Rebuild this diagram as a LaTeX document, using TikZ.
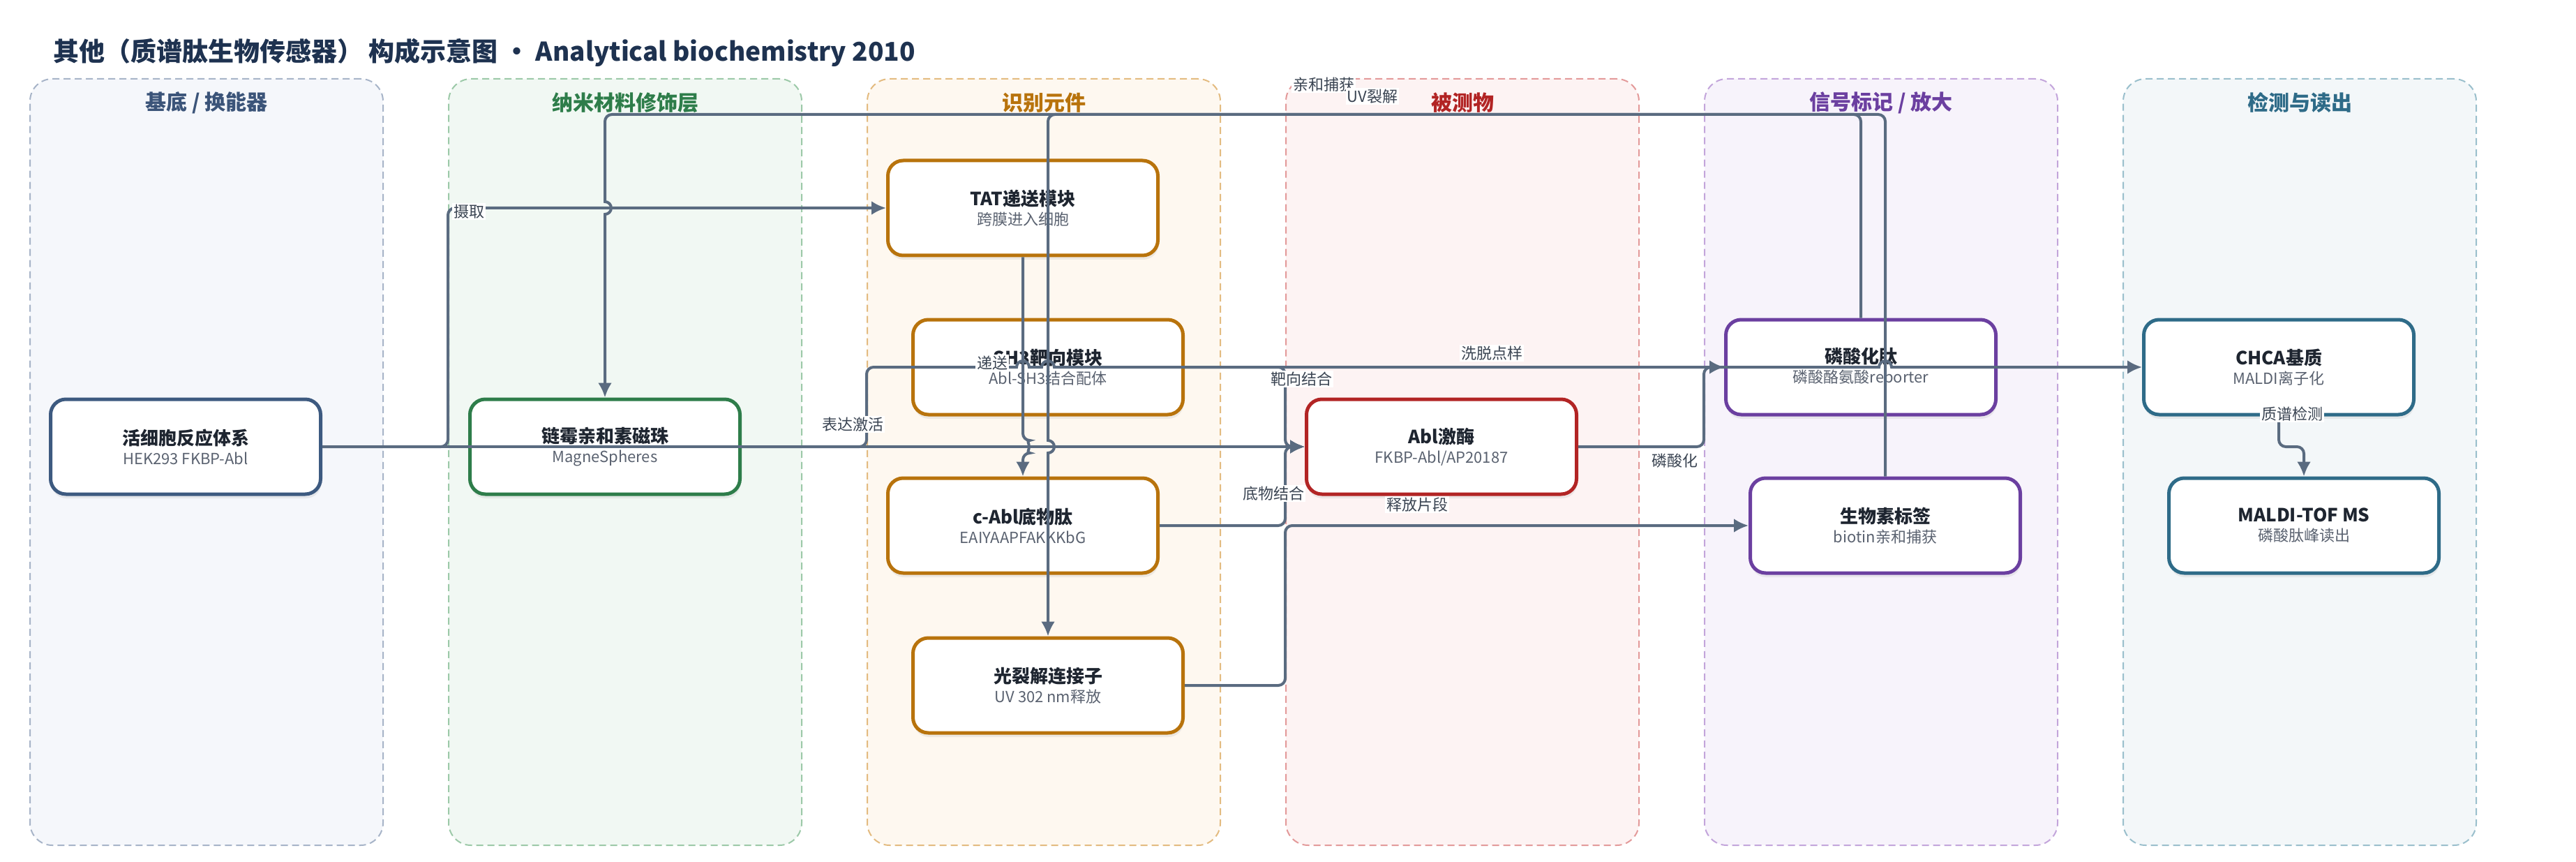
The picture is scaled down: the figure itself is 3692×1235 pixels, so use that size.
\documentclass[tikz,border=0pt]{standalone}
\usepackage{fontspec}
\setmainfont{Noto Sans CJK SC}
\usepackage{tikz}
\usetikzlibrary{shapes, arrows.meta, positioning, shadows}
\definecolor{edgec}{HTML}{5A6B80}
\definecolor{labelc}{HTML}{3A4452}
\definecolor{titlec}{HTML}{1E3250}
\definecolor{nodetc}{HTML}{1E2530}
\definecolor{subc}{HTML}{5A6270}
\definecolor{laneAfill}{HTML}{F5F7FB}\definecolor{laneAline}{HTML}{A7B4C8}\definecolor{laneAtext}{HTML}{3B5479}\definecolor{laneAbox}{HTML}{3D5A80}
\definecolor{laneBfill}{HTML}{F1F8F3}\definecolor{laneBline}{HTML}{9CC9A8}\definecolor{laneBtext}{HTML}{2E7D4A}\definecolor{laneBbox}{HTML}{2E7D4A}
\definecolor{laneCfill}{HTML}{FEF8F0}\definecolor{laneCline}{HTML}{E3BB80}\definecolor{laneCtext}{HTML}{B8730C}\definecolor{laneCbox}{HTML}{B8730C}
\definecolor{laneDfill}{HTML}{FDF3F3}\definecolor{laneDline}{HTML}{E39A9A}\definecolor{laneDtext}{HTML}{B22424}\definecolor{laneDbox}{HTML}{B22424}
\definecolor{laneEfill}{HTML}{F7F3FB}\definecolor{laneEline}{HTML}{C3A5DB}\definecolor{laneEtext}{HTML}{6B3FA0}\definecolor{laneEbox}{HTML}{6B3FA0}
\definecolor{laneFfill}{HTML}{F3F7F9}\definecolor{laneFline}{HTML}{9ABFCC}\definecolor{laneFtext}{HTML}{2E6B88}\definecolor{laneFbox}{HTML}{2E6B88}
\tikzstyle{lane}=[draw,rectangle,rounded corners=16pt,line width=1pt,dash pattern=on 5pt off 3pt,minimum width=253pt,minimum height=549pt]
\tikzstyle{lanetitle}=[font=\fontsize{15pt}{18pt}\selectfont\bfseries]
\tikzstyle{block}=[draw,fill=white,rectangle,rounded corners=11pt,line width=2.5pt,minimum width=193.5pt,minimum height=68pt,align=center,drop shadow={opacity=0.13,shadow xshift=0.5pt,shadow yshift=-3pt}]
\tikzstyle{edge}=[draw=edgec,line width=2pt,->,rounded corners=5pt]
\tikzstyle{lbl}=[fill=white,inner sep=1pt,text=labelc,font=\fontsize{11pt}{13pt}\selectfont]
\newcommand{\blocktext}[2]{{\fontsize{13pt}{16pt}\selectfont\bfseries\color{nodetc}#1}\\[2pt]{\fontsize{11pt}{13pt}\selectfont\color{subc}#2}}

\begin{document}
\begin{tikzpicture}[x=0.5pt,y=-0.5pt,>={Latex[length=10.5pt,width=10pt]}]
    \useasboundingbox (0,0) rectangle (3692,1235);
    \node[anchor=west,inner sep=0pt,text=titlec,font=\fontsize{18.5pt}{22pt}\selectfont\bfseries] (title) at (76,75) {其他（质谱肽生物传感器） 构成示意图 • Analytical biochemistry 2010};
    % lanes
    \node[lane,draw=laneAline,fill=laneAfill] (lane1) at (296,662) {};
    \node[lane,draw=laneBline,fill=laneBfill] (lane2) at (896,662) {};
    \node[lane,draw=laneCline,fill=laneCfill] (lane3) at (1496,662) {};
    \node[lane,draw=laneDline,fill=laneDfill] (lane4) at (2096,662) {};
    \node[lane,draw=laneEline,fill=laneEfill] (lane5) at (2696,662) {};
    \node[lane,draw=laneFline,fill=laneFfill] (lane6) at (3296,662) {};
    \node[lanetitle,text=laneAtext] (lt1) at (296,147) {基底 / 换能器};
    \node[lanetitle,text=laneBtext] (lt2) at (896,147) {纳米材料修饰层};
    \node[lanetitle,text=laneCtext] (lt3) at (1496,147) {识别元件};
    \node[lanetitle,text=laneDtext] (lt4) at (2096,147) {被测物};
    \node[lanetitle,text=laneEtext] (lt5) at (2696,147) {信号标记 / 放大};
    \node[lanetitle,text=laneFtext] (lt6) at (3296,147) {检测与读出};
    % blocks
    \node[block,draw=laneAbox] (cell) at (266,640) {\blocktext{活细胞反应体系}{HEK293 FKBP-Abl}};
    \node[block,draw=laneBbox] (beads) at (867,640) {\blocktext{链霉亲和素磁珠}{MagneSpheres}};
    \node[block,draw=laneCbox] (tat) at (1466,298) {\blocktext{TAT递送模块}{跨膜进入细胞}};
    \node[block,draw=laneCbox] (sh3) at (1502,526) {\blocktext{SH3靶向模块}{Abl-SH3结合配体}};
    \node[block,draw=laneCbox] (sub) at (1466,753) {\blocktext{c-Abl底物肽}{EAIYAAPFAKKKbG}};
    \node[block,draw=laneCbox] (uv) at (1502,982) {\blocktext{光裂解连接子}{UV 302 nm释放}};
    \node[block,draw=laneDbox] (abl) at (2066,640) {\blocktext{Abl激酶}{FKBP-Abl/AP20187}};
    \node[block,draw=laneEbox] (phos) at (2667,526) {\blocktext{磷酸化肽}{磷酸酪氨酸reporter}};
    \node[block,draw=laneEbox] (bio) at (2702,753) {\blocktext{生物素标签}{biotin亲和捕获}};
    \node[block,draw=laneFbox] (chca) at (3266,526) {\blocktext{CHCA基质}{MALDI离子化}};
    \node[block,draw=laneFbox] (tof) at (3302,753) {\blocktext{MALDI-TOF MS}{磷酸肽峰读出}};
    % edges
    \draw[edge] (cell.east) -- (642,640) -- (642,298) -- (tat.west);
    \draw[edge] (cell.east) -- (abl.west);
    \draw[edge] (beads.east) -- (1242,640) -- (1242,526) -- (1350,526) [sharp corners] -- (1457,526) arc[start angle=180,end angle=0,radius=4.5pt] -- (1493,526) arc[start angle=180,end angle=0,radius=4.5pt] -- (2693,526) arc[start angle=180,end angle=0,radius=4.5pt] -- (chca.west);
    \draw[edge] (tat.south) -- (1466,631) arc[start angle=90,end angle=-90,radius=4.5pt] -- (sub.north);
    \draw[edge] (sh3.east) -- (1842,526) -- (1842,640) -- (abl.west);
    \draw[edge] (sub.east) -- (1842,753) -- (1842,640) -- (abl.west);
    \draw[edge] (uv.east) -- (1842,982) -- (1842,753) -- (bio.west);
    \draw[edge] (abl.east) -- (2442,640) -- (2442,526) -- (phos.west);
    \draw[edge] (phos.north) -- (2667,164) -- (1502,164) -- (1502,300) [sharp corners] -- (1502,631) arc[start angle=90,end angle=-90,radius=4.5pt] -- (uv.north);
    \draw[edge] (bio.north) -- (2702,164) -- (867,164) -- (867,230) [sharp corners] -- (867,289) arc[start angle=90,end angle=-90,radius=4.5pt] -- (beads.north);
    \draw[edge] (chca.south) -- (3266,640) -- (3302,640) -- (tof.north);
    % labels
    \node[lbl] (e1) at (672,303) {摄取};
    \node[lbl] (e2) at (1222,608) {表达激活};
    \node[lbl] (e3) at (2138,506) {洗脱点样};
    \node[lbl] (e4) at (1422,520) {递送};
    \node[lbl] (e5) at (1865,543) {靶向结合};
    \node[lbl] (e6) at (1825,707) {底物结合};
    \node[lbl] (e7) at (2031,723) {释放片段};
    \node[lbl] (e8) at (2400,660) {磷酸化};
    \node[lbl] (e9) at (1897,121) {亲和捕获};
    \node[lbl] (e10) at (1967,138) {UV裂解};
    \node[lbl] (e11) at (3285,593) {质谱检测};
\end{tikzpicture}
\end{document}
